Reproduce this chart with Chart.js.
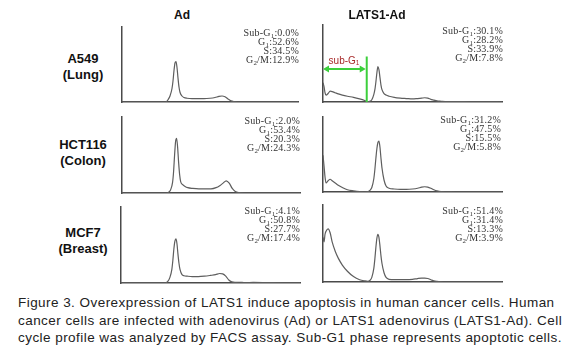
<!DOCTYPE html>
<html lang="en">
<head>
<meta charset="UTF-8">
<title>Figure 3</title>
<script src="https://cdn.jsdelivr.net/npm/chart.js"></script>
<style>
  body { margin: 0; background: #fff; width: 576px; height: 354px; position: relative; overflow: hidden;
         font-family: "Liberation Sans", Arial, sans-serif; }
  .panel { position: absolute; }
  .panel canvas { display: block; }
  .col-title, .row-label { position: absolute; font-weight: bold; font-size: 12px; color: #111;
                           text-align: center; white-space: nowrap; transform: translate(-50%, -50%); }
  .row-label { font-size: 13px; line-height: 16px; }
  .stats { position: absolute; font-family: "Liberation Serif", "Times New Roman", serif; font-size: 10px;
           letter-spacing: 0.2px; line-height: 9px; color: #333; text-align: right; white-space: nowrap; }
  .stats sub { font-size: 7px; vertical-align: -2px; line-height: 0; }
  .gate-label { position: absolute; font-size: 10px; color: #a82a2a; white-space: nowrap; transform: translate(-50%, -50%); }
  .gate-label sub { font-size: 6.5px; vertical-align: -1px; line-height: 0; }
  .caption { position: absolute; left: 18px; font-size: 13.5px; letter-spacing: 0.45px; color: #222; white-space: nowrap; }
</style>
</head>
<body>
<script>
    // DNA content channel (x) shared by every histogram
    const channels = [0, 1, 2, 3, 5, 7, 9, 12, 15, 19, 24, 30, 36, 41, 44, 46, 48, 50, 51, 52, 53, 54, 55, 56, 57, 58,
                      60, 62, 65, 70, 76, 82, 88, 93, 97, 100, 103, 106, 109, 112, 116, 122, 130, 145, 160, 176];

    // cell counts, % of the axis height
    const a549Ad = [0, 0, 0, 0, 0, 0, 0, 0, 0, 0, 0, 0, 0, 0, 0, 3, 8, 18, 28, 42, 52, 54, 46, 32, 20, 13,
                    8, 6, 5, 4.5, 4.5, 4.5, 5, 6, 7.5, 8, 7, 4, 1.5, 0.5, 0, 0, 0, 0, 0, 0];
    const a549Lats = [25, 20, 12, 9, 11, 14, 13.5, 12, 10.5, 9, 7.5, 6, 4, 2, 0.5, 1, 3, 10, 16, 26, 38, 46, 42, 32, 22, 16,
                      11, 9, 7.5, 6, 5, 4.5, 4, 4.5, 5, 5.5, 5, 3.5, 2.5, 1.5, 1, 0.5, 0.5, 0.3, 0.2, 0];
    const hctAd = [1, 0, 0, 0, 0, 0, 0, 0, 0, 0, 0, 0, 0, 0, 0, 1, 4, 14, 28, 50, 68, 72, 60, 40, 24, 15,
                   11, 9, 7, 6, 5.5, 5.5, 5.5, 7, 10, 13, 16, 13, 6, 2, 0.5, 0, 0, 0, 0, 0];
    const hctLats = [49, 35, 20, 12, 15, 17, 15, 12, 9, 6, 3, 1.5, 0.5, 0.3, 0.5, 2, 6, 18, 30, 45, 58, 66, 68, 60, 45, 32,
                     16, 8, 5, 4, 3.5, 3.5, 4, 5, 6.5, 7, 6.5, 5, 3, 1.5, 0.5, 0.3, 0, 0, 0, 0];
    const mcfAd = [0.3, 0.3, 0.3, 0.3, 0.3, 0.3, 0.3, 0.3, 0.3, 0.3, 0.3, 0.3, 0.3, 0.3, 0.3, 2, 7, 18, 30, 45, 55, 58, 52, 38, 26, 18,
                   11, 9.5, 9, 8.5, 8.5, 9, 10, 11, 12.5, 12, 9, 4, 1.5, 0.8, 1, 0.5, 0.8, 0.5, 0.3, 0.3];
    const mcfLats = [58, 52, 62, 66, 69, 64, 52, 40, 31, 22, 14, 7, 3, 1.5, 1, 2, 6, 18, 30, 45, 57, 62, 58, 47, 34, 24,
                     12, 6, 3.5, 3, 3, 3, 3.5, 4.5, 5, 5, 4.5, 3, 1.5, 0.8, 0.3, 0, 0, 0, 0, 0];

    // cell cycle fractions (%), order: A549 Ad, A549 LATS1-Ad, HCT116 Ad, HCT116 LATS1-Ad, MCF7 Ad, MCF7 LATS1-Ad
    const subG1 = ["0.0", "30.1", "2.0", "31.2", "4.1", "51.4"];
    const g1 = ["52.6", "28.2", "53.4", "47.5", "50.8", "31.4"];
    const sPhase = ["34.5", "33.9", "20.3", "15.5", "27.7", "13.3"];
    const g2m = ["12.9", "7.8", "24.3", "5.8", "17.4", "3.9"];

    const columnTitles = ["Ad", "LATS1-Ad"];
    const rowNames = ["A549", "HCT116", "MCF7"];
    const rowTissues = ["(Lung)", "(Colon)", "(Breast)"];
    const gateChannel = 43; // sub-G1 gate on A549 LATS1-Ad

    const captionLines = [
        "Figure 3. Overexpression of LATS1 induce apoptosis in human cancer cells. Human",
        "cancer cells are infected with adenovirus (Ad) or LATS1 adenovirus (LATS1-Ad). Cell",
        "cycle profile was analyzed by FACS assay. Sub-G1 phase represents apoptotic cells."
    ];

    // layout of the six histograms (axis box in page pixels)
    const panels = [
        { counts: a549Ad,   left: 122, top: 27,  w: 176, h: 75, statsRight: 299, statsTop: 28 },
        { counts: a549Lats, left: 323, top: 25,  w: 179, h: 77, statsRight: 503, statsTop: 26, gate: true },
        { counts: hctAd,    left: 122, top: 117, w: 178, h: 76, statsRight: 300, statsTop: 116 },
        { counts: hctLats,  left: 323, top: 117, w: 179, h: 75, statsRight: 501, statsTop: 115 },
        { counts: mcfAd,    left: 121, top: 207, w: 179, h: 76, statsRight: 300, statsTop: 206 },
        { counts: mcfLats,  left: 323, top: 205, w: 179, h: 77, statsRight: 503, statsTop: 206 }
    ];

    function addDiv(cls, html, x, y) {
        const d = document.createElement("div");
        d.className = cls;
        d.innerHTML = html;
        d.style.left = x + "px";
        d.style.top = y + "px";
        document.body.appendChild(d);
        return d;
    }

    // green gate line with double arrow
    const gatePlugin = {
        id: "gate",
        afterDatasetsDraw(chart) {
            const ctx = chart.ctx;
            const xs = chart.scales.x, ys = chart.scales.y;
            const gx = xs.getPixelForValue(gateChannel);
            const x0 = xs.getPixelForValue(0);
            const ay = ys.getPixelForValue(43);
            ctx.save();
            ctx.strokeStyle = "#3ccf3c";
            ctx.fillStyle = "#3ccf3c";
            ctx.lineWidth = 2;
            ctx.beginPath();
            ctx.moveTo(gx, ys.getPixelForValue(59));
            ctx.lineTo(gx, ys.getPixelForValue(0));
            ctx.moveTo(x0 + 3, ay);
            ctx.lineTo(gx - 3, ay);
            ctx.stroke();
            ctx.beginPath();
            ctx.moveTo(x0, ay); ctx.lineTo(x0 + 6, ay - 3.5); ctx.lineTo(x0 + 6, ay + 3.5); ctx.closePath();
            ctx.moveTo(gx - 1, ay); ctx.lineTo(gx - 7, ay - 3.5); ctx.lineTo(gx - 7, ay + 3.5); ctx.closePath();
            ctx.fill();
            ctx.restore();
        }
    };

    const pad = 2;
    panels.forEach((p, i) => {
        const wrap = document.createElement("div");
        wrap.className = "panel";
        wrap.style.left = (p.left - pad) + "px";
        wrap.style.top = (p.top - pad) + "px";
        const canvas = document.createElement("canvas");
        canvas.width = p.w + pad * 2;
        canvas.height = p.h + pad * 2;
        wrap.appendChild(canvas);
        document.body.appendChild(wrap);

        new Chart(canvas, {
            type: "line",
            data: {
                datasets: [{
                    data: channels.map((c, k) => ({ x: c, y: p.counts[k] })),
                    borderColor: "#5e5e5e",
                    borderWidth: 1.2,
                    pointRadius: 0,
                    cubicInterpolationMode: "monotone",
                    fill: false
                }]
            },
            options: {
                responsive: false,
                animation: false,
                events: [],
                layout: { padding: pad },
                plugins: { legend: { display: false }, tooltip: { enabled: false } },
                scales: {
                    x: { type: "linear", min: 0, max: 176, grid: { display: false, drawTicks: false },
                         ticks: { display: false }, border: { color: "#4a4a4a", width: 1.5 } },
                    y: { min: 0, max: 100, grid: { display: false, drawTicks: false },
                         ticks: { display: false }, border: { color: "#4a4a4a", width: 1.5 } }
                }
            },
            plugins: p.gate ? [gatePlugin] : []
        });

        const stats = "Sub-G<sub>1</sub>:" + subG1[i] + "%<br>G<sub>1</sub>:" + g1[i] + "%<br>S:" + sPhase[i] +
                      "%<br>G<sub>2</sub>/M:" + g2m[i] + "%";
        const s = addDiv("stats", stats, 0, p.statsTop);
        s.style.right = (576 - p.statsRight) + "px";
        s.style.left = "auto";
    });

    addDiv("gate-label", "sub-G<sub>1</sub>", 344, 60);

    addDiv("col-title", columnTitles[0], 182, 15);
    addDiv("col-title", columnTitles[1], 377, 15);

    const rowY = [67, 153, 241];
    rowNames.forEach((n, r) => addDiv("row-label", n + "<br>" + rowTissues[r], 83, rowY[r]));

    captionLines.forEach((line, k) => {
        addDiv("caption", line, 18, 295 + k * 17.5);
    });
</script>
</body>
</html>
